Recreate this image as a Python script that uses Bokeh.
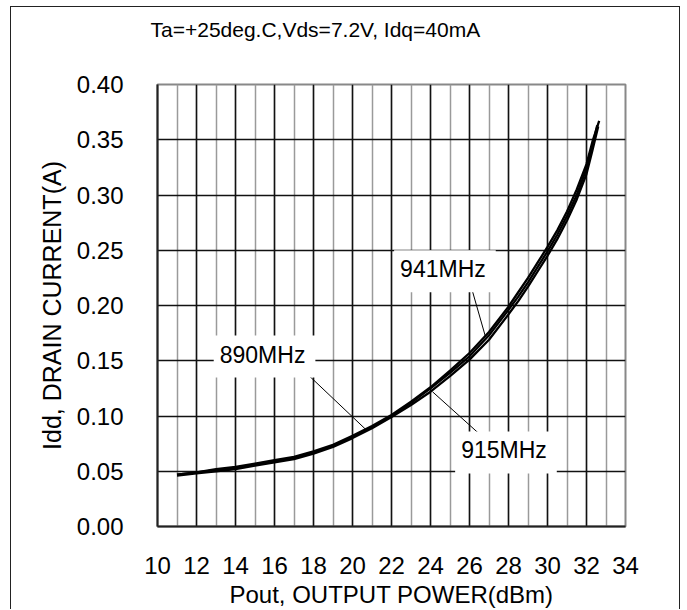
from bokeh.plotting import figure
from bokeh.models import Range1d, SingleIntervalTicker, NumeralTickFormatter, Label, Title
from bokeh.embed import file_html
from bokeh.resources import INLINE

# ---- data ----
x_890 = [11.0, 12, 13, 14, 15, 16, 17, 18, 19, 20, 21, 22, 23, 24, 25, 26, 27, 28, 28.5, 29, 29.5,
         30, 30.5, 31, 31.5, 32, 32.3, 32.55]
y_890 = [0.047, 0.049, 0.051, 0.053, 0.056, 0.059, 0.062, 0.067, 0.073, 0.081, 0.090, 0.100, 0.112,
         0.125, 0.139, 0.154, 0.173, 0.196, 0.208, 0.221, 0.235, 0.249, 0.264, 0.281, 0.300,
         0.324, 0.344, 0.363]
x_915 = [11.0, 12, 13, 14, 15, 16, 17, 18, 19, 20, 21, 22, 23, 24, 25, 26, 27, 28, 28.5, 29, 29.5,
         30, 30.5, 31, 31.5, 32, 32.3, 32.6]
y_915 = [0.046, 0.048, 0.050, 0.052, 0.055, 0.058, 0.061, 0.066, 0.072, 0.080, 0.089, 0.099, 0.110,
         0.122, 0.136, 0.151, 0.169, 0.192, 0.204, 0.217, 0.231, 0.245, 0.260, 0.277, 0.296,
         0.319, 0.340, 0.362]
x_941 = [11.0, 12, 13, 14, 15, 16, 17, 18, 19, 20, 21, 22, 23, 24, 25, 26, 27, 28, 28.5, 29, 29.5,
         30, 30.5, 31, 31.5, 32, 32.3, 32.65]
y_941 = [0.047, 0.049, 0.052, 0.054, 0.057, 0.060, 0.063, 0.068, 0.074, 0.082, 0.091, 0.101, 0.113,
         0.126, 0.141, 0.157, 0.176, 0.199, 0.212, 0.225, 0.239, 0.253, 0.268, 0.285, 0.305,
         0.328, 0.348, 0.367]
series_labels = ["890MHz", "915MHz", "941MHz"]
title_text = "Ta=+25deg.C,Vds=7.2V, Idq=40mA"
x_title = "Pout, OUTPUT POWER(dBm)"
y_title = "Idd, DRAIN CURRENT(A)"

FONT = "Liberation Sans"

p = figure(width=670, height=603, x_range=Range1d(10, 34), y_range=Range1d(0, 0.4),
           output_backend="svg", toolbar_location=None,
           min_border_left=146, min_border_right=56, min_border_top=77, min_border_bottom=82)
p.styles = {"margin-left": "10px", "margin-top": "6px",
            "border-left": "1.5px solid #222", "border-top": "1.5px solid #222",
            "border-right": "1.5px solid #222"}
p.background_fill_color = "white"
p.border_fill_color = "white"
p.outline_line_color = "#888888"
p.outline_line_width = 2

# spacer between frame and caption, then the caption itself (outermost)
p.add_layout(Title(text=" ", text_font_size="10px", standoff=31), "above")
p.add_layout(Title(text=title_text, align="left", offset=-7, standoff=0,
                   text_font=FONT, text_font_size="21px", text_font_style="normal",
                   text_color="black"), "above")

# axes
p.xaxis.ticker = SingleIntervalTicker(interval=2, num_minor_ticks=2)
p.yaxis.ticker = SingleIntervalTicker(interval=0.05, num_minor_ticks=0)
p.yaxis.formatter = NumeralTickFormatter(format="0.00")
for ax in (p.xaxis, p.yaxis):
    ax.major_tick_line_color = None
    ax.minor_tick_line_color = None
    ax.axis_line_color = "#222222"
    ax.axis_line_width = 2
    ax.major_label_text_font = FONT
    ax.major_label_text_font_size = "24px"
    ax.major_label_text_color = "black"
    ax.axis_label_text_font = FONT
    ax.axis_label_text_font_style = "normal"
    ax.axis_label_text_color = "black"
p.xaxis.axis_label = x_title
p.yaxis.axis_label = y_title
p.xaxis.axis_label_text_font_size = "24px"
p.yaxis.axis_label_text_font_size = "25px"
p.xaxis.major_label_standoff = 24
p.yaxis.major_label_standoff = 28
p.xaxis.axis_label_standoff = 4
p.yaxis.axis_label_standoff = 8

# grids
p.xgrid.ticker = SingleIntervalTicker(interval=2, num_minor_ticks=2)
p.xgrid.grid_line_color = "#111111"
p.xgrid.grid_line_width = 1.5
p.xgrid.minor_grid_line_color = "#9a9a9a"
p.xgrid.minor_grid_line_width = 1.5
p.ygrid.ticker = SingleIntervalTicker(interval=0.05, num_minor_ticks=0)
p.ygrid.grid_line_color = "#111111"
p.ygrid.grid_line_width = 1.5

# curves
for xs, ys in ((x_890, y_890), (x_915, y_915), (x_941, y_941)):
    p.line(xs, ys, line_color="black", line_width=2.3, line_join="round")

# leader lines (annotation)
p.segment(x0=[17.74, 26.46, 26.15], y0=[0.137, 0.0845, 0.213],
          x1=[20.67, 24.10, 26.82], y1=[0.088, 0.122, 0.1717],
          line_color="black", line_width=1)

label_pos = [(15.49, 0.1538), (27.87, 0.067), (24.74, 0.231)]
for txt, (lx, ly) in zip(series_labels, label_pos):
    p.add_layout(Label(x=lx, y=ly, text=txt, text_align="center", text_baseline="middle",
                       text_font=FONT, text_font_size="23px", text_color="black",
                       background_fill_color="white", padding=(6, 10, 6, 10)))

open("out.html", "w").write(file_html(p, INLINE))
